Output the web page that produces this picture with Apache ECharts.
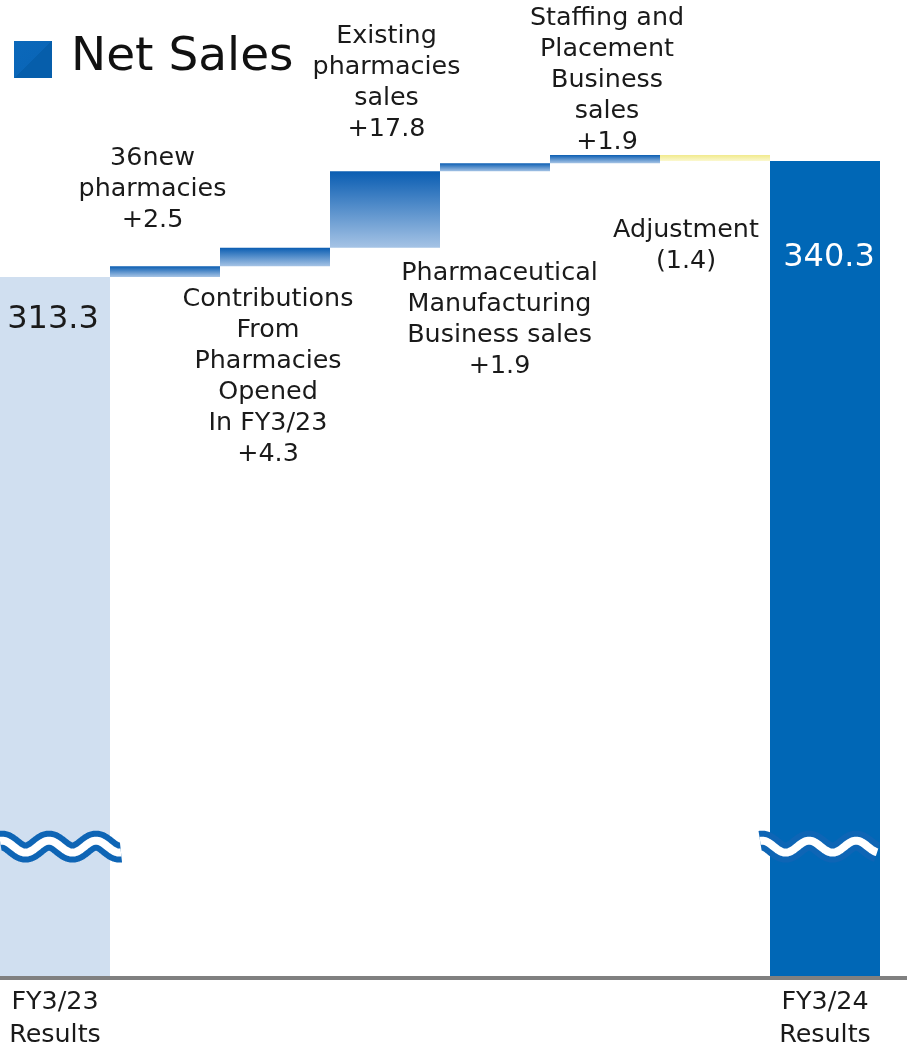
<!DOCTYPE html>
<html><head><meta charset="utf-8">
<script src="https://cdn.jsdelivr.net/npm/echarts@6/dist/echarts.min.js"></script>
<style>html,body{margin:0;padding:0;background:#fff}#c{width:907px;height:1047px}</style>
</head><body><div id="c"></div>
<script>
// ---- data ----
const categories = ['FY3/23\nResults', '', '', '', '', '', '', 'FY3/24\nResults'];
const stepNames = ['', '36new\npharmacies', 'Contributions\nFrom\nPharmacies\nOpened\nIn FY3/23', 'Existing\npharmacies\nsales', 'Pharmaceutical\nManufacturing\nBusiness sales', 'Staffing and\nPlacement\nBusiness\nsales', 'Adjustment', ''];
const changes = [null, 2.5, 4.3, 17.8, 1.9, 1.9, -1.4, null];
const startTotal = 313.3;
const endTotal = 340.3;
const breakValue = 180.6;   // where the axis-break wave is drawn
const axisMin = 150;
const axisMax = 377.8;
const chartTitle = 'Net Sales';

// ---- derived series ----
const baseData = [], deltaData = [], totalData = [];
let running = startTotal;
changes.forEach((c, i) => {
  if (c === null) { baseData.push('-'); deltaData.push('-'); totalData.push(i === 0 ? startTotal : endTotal); return; }
  totalData.push('-');
  if (c >= 0) { baseData.push(+running.toFixed(2)); deltaData.push(c); running += c; }
  else { running += c; baseData.push(+running.toFixed(2)); deltaData.push(-c); }
});

// ---- styles ----
const FONT = '"DejaVu Sans", Verdana, sans-serif';
const TXT = '#1a1a1a';
const FS = 25.4;
const G = echarts.graphic.LinearGradient;
const stepColor = new G(0, 0, 0, 1, [{offset: 0, color: '#0a5db2'}, {offset: 1, color: '#a5c3e5'}]);
const negColor = new G(0, 0, 0, 1, [{offset: 0, color: '#f1ea8c'}, {offset: 1, color: '#fbf8cf'}]);
const labelLayout = {
  1: {position: 'top', distance: 30.5, offset: [-12.5, 0]},
  2: {position: 'bottom', distance: 18, offset: [-7, 0]},
  3: {position: 'top', distance: 26.5, offset: [1.5, 0]},
  4: {position: 'bottom', distance: 87, offset: [4.5, 0]},
  5: {position: 'top', distance: 0, offset: [2, 2.5]},
  6: {position: 'bottom', distance: 54, offset: [-29, 0]}
};
const waveExtent = [[0, 1.10], [-0.09, 0.98]];
const WAVE_A = 6, WAVE_P = 47;

const fmtChange = c => c >= 0 ? '+' + c.toFixed(1) : '(' + (-c).toFixed(1) + ')';

const stepItems = deltaData.map((v, i) => {
  if (v === '-') return '-';
  const c = changes[i];
  const L = labelLayout[i];
  return {
    value: v,
    itemStyle: {color: c >= 0 ? stepColor : negColor},
    label: {
      show: true, position: L.position, distance: L.distance, offset: L.offset,
      formatter: stepNames[i] + '\n' + fmtChange(c),
      fontSize: FS, lineHeight: 31, color: TXT, fontFamily: FONT, align: 'center'
    }
  };
});

const totalItems = totalData.map((v, i) => {
  if (v === '-') return '-';
  const first = i === 0;
  return {
    value: v,
    itemStyle: {color: first ? '#d0dff0' : '#0067b6'},
    label: {
      show: true, position: 'insideTop', distance: first ? 26 : 80, offset: first ? [-2, 0] : [4, 0],
      formatter: v.toFixed(1), fontSize: 32, lineHeight: 34,
      color: first ? TXT : '#ffffff', fontFamily: FONT
    }
  };
});

const chart = echarts.init(document.getElementById('c'), null, {renderer: 'canvas'});
chart.setOption({
  animation: false,
  backgroundColor: '#ffffff',
  title: {
    text: chartTitle, left: 71, top: 30, padding: 0,
    textStyle: {fontSize: 47, fontWeight: 'normal', color: '#111', fontFamily: FONT, lineHeight: 56}
  },
  graphic: [{
    type: 'rect', left: 14, top: 41, shape: {width: 38, height: 37},
    style: {fill: new G(0, 0, 1, 1, [{offset: 0, color: '#0b68ba'}, {offset: 0.5, color: '#0a66b8'}, {offset: 0.5, color: '#065eab'}, {offset: 1, color: '#065eab'}])}
  }],
  grid: [
    {left: 0, right: 27, top: 0, bottom: 69, outerBoundsMode: 'none', containLabel: false},
    {left: 0, right: 0, top: 0, bottom: 69, outerBoundsMode: 'none', containLabel: false}
  ],
  xAxis: [
    {
      type: 'category', data: categories, gridIndex: 0,
      axisLine: {show: false}, axisTick: {show: false}, splitLine: {show: false},
      axisLabel: {interval: 0, fontSize: FS, lineHeight: 33, margin: 8, color: TXT, fontFamily: FONT}
    },
    {
      type: 'value', gridIndex: 1, min: 0, max: 1, z: 10,
      axisLine: {show: true, onZero: false, lineStyle: {color: '#808080', width: 4}},
      axisTick: {show: false}, axisLabel: {show: false}, splitLine: {show: false}
    }
  ],
  yAxis: [
    {type: 'value', gridIndex: 0, min: axisMin, max: axisMax, show: false, splitLine: {show: false}},
    {type: 'value', gridIndex: 1, min: 0, max: 1, show: false}
  ],
  series: [
    {
      name: 'base', type: 'bar', stack: 'w', data: baseData,
      itemStyle: {color: 'rgba(0,0,0,0)'}, barCategoryGap: '0%', barGap: '-100%', silent: true
    },
    {
      name: chartTitle, type: 'bar', stack: 'w', data: stepItems,
      barCategoryGap: '0%', barGap: '-100%'
    },
    {
      name: 'totals', type: 'bar', data: totalItems,
      barCategoryGap: '0%', barGap: '-100%', clip: true
    },
    {
      name: 'break', type: 'custom', z: 5, silent: true,
      data: [[0, breakValue], [7, breakValue]],
      encode: {x: 0, y: 1},
      renderItem: function (params, api) {
        const c = api.coord([api.value(0), api.value(1)]);
        const band = api.size([1, 0])[0];
        const ext = waveExtent[params.dataIndex];
        const x0 = c[0] - band / 2 + ext[0] * band;
        const x1 = c[0] - band / 2 + ext[1] * band;
        const pts = [];
        for (let x = x0; x <= x1 + 0.01; x += 1) {
          pts.push([x, c[1] - WAVE_A * Math.cos(2 * Math.PI * (x - x0 - 2) / WAVE_P)]);
        }
        return {
          type: 'group', children: [
            {type: 'polyline', shape: {points: pts}, style: {stroke: '#0e65b5', lineWidth: 20, fill: null, lineJoin: 'round', lineCap: 'butt'}},
            {type: 'polyline', shape: {points: pts}, style: {stroke: '#ffffff', lineWidth: 8, fill: null, lineJoin: 'round', lineCap: 'butt'}}
          ]
        };
      }
    }
  ]
});
</script>
</body></html>
